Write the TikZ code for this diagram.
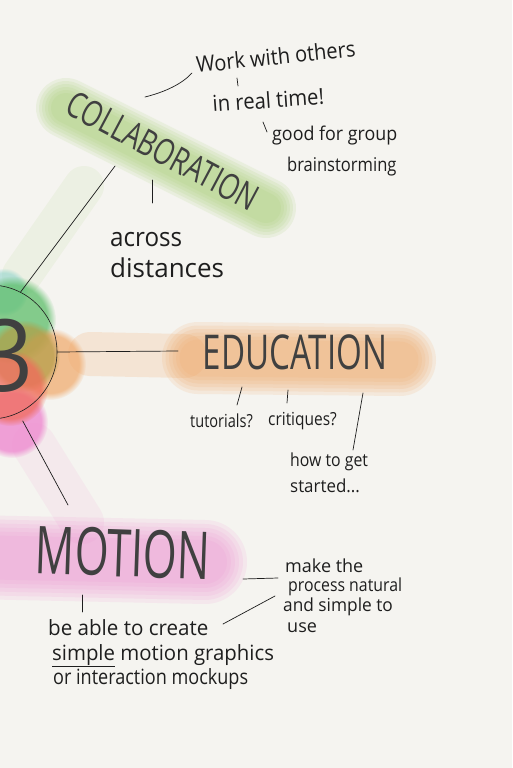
\documentclass[tikz,border=0pt]{standalone}
\usepackage{fontspec}
\setmainfont{Open Sans}
\usetikzlibrary{calc,fadings}
\definecolor{paper}{HTML}{F5F4F0}
\definecolor{ink}{HTML}{1E1E1E}
\definecolor{collab}{HTML}{A5CF72}
\definecolor{educ}{HTML}{F0A868}
\definecolor{motion}{HTML}{EE8AD0}
\definecolor{hubgreen}{HTML}{5DBE6A}
\definecolor{hubolive}{HTML}{B39C45}
\definecolor{hubred}{HTML}{EF6B5B}
\definecolor{hubteal}{HTML}{80D0C8}

\tikzset{
  wash/.style={line cap=round, line join=round},
  blob/.style={path fading=circle with fuzzy edge 20 percent},
  link/.style={draw=ink, line width=0.7pt, line cap=round},
  title/.style={text=ink!85, inner sep=0pt},
  note/.style={text=ink, inner sep=0pt, anchor=base west},
}

\begin{document}
\begin{tikzpicture}[x=1pt,y=-1pt]
  % paper
  \fill[paper] (0,0) rectangle (512,768);
  \useasboundingbox (0,0) rectangle (512,768);

  % watercolour washes behind the words
  \draw[collab,opacity=0.1,line width=40pt,wash] (22,275) -- (84,186);
  \foreach \i in {0,...,5} {
    \pgfmathsetmacro\lw{60-6*\i}
    \draw[collab,opacity=0.14,line width=\lw pt,wash] (66,108) -- (266,208);
  }
  \draw[educ,opacity=0.2,line width=44pt,wash] (90,354) -- (185,356);
  \foreach \i in {0,...,5} {
    \pgfmathsetmacro\lw{72-7*\i}
    \draw[educ,opacity=0.15,line width=\lw pt,wash] (198,358) -- (400,360);
  }
  \draw[motion,opacity=0.1,line width=44pt,wash] (34,445) -- (82,522);
  \foreach \i in {0,...,5} {
    \pgfmathsetmacro\lw{84-8*\i}
    \draw[motion,opacity=0.12,line width=\lw pt,wash] (-30,557) -- (205,562);
  }

  % hub blob (several colours bleeding into each other)
  \fill[hubteal,opacity=0.5,blob] (4,292) circle (24);
  \fill[hubgreen,opacity=0.75,blob] (12,320) circle (44);
  \fill[educ,opacity=0.7,blob] (50,364) circle (36);
  \fill[hubolive,opacity=0.7,blob] (24,356) circle (36);
  \fill[motion,opacity=0.8,blob] (12,422) circle (36);
  \fill[hubred,opacity=0.75,blob] (10,388) circle (38);

  % hub
  \node[circle,draw=ink,line width=0.6pt,minimum size=134pt,inner sep=0pt] (hub) at (-10,352) {};
  \node[title,font=\fontsize{100}{100}\selectfont,xscale=0.95] (three) at (7,356) {3};

  % main branches
  \node[title,font=\fontsize{36}{36}\selectfont,rotate=-28,xscale=0.73] (collab) at (163,151) {COLLABORATION};
  \node[title,font=\fontsize{48}{48}\selectfont,xscale=0.69] (edu) at (295,352) {EDUCATION};
  \node[title,font=\fontsize{66}{66}\selectfont,rotate=-2,xscale=0.66] (motion) at (123,553) {MOTION};

  % collaboration notes
  \node[note,font=\fontsize{22}{22}\selectfont,rotate=6,xscale=0.91] (work) at (197,73) {Work with others};
  \node[note,font=\fontsize{22}{22}\selectfont,rotate=4,xscale=0.92] (realtime) at (213,112) {in real time!};
  \node[note,font=\fontsize{19}{19}\selectfont,xscale=0.94] (good) at (272,140) {good for group};
  \node[note,font=\fontsize{19}{19}\selectfont,xscale=0.87] (brain) at (287,171) {brainstorming};
  \node[note,font=\fontsize{26}{26}\selectfont,xscale=0.93] (across) at (110,246) {across};
  \node[note,font=\fontsize{26}{26}\selectfont] (dist) at (110,277) {distances};

  % education notes
  \node[note,font=\fontsize{18}{18}\selectfont,xscale=0.81] (tut) at (190,427) {tutorials?};
  \node[note,font=\fontsize{18}{18}\selectfont,xscale=0.86] (crit) at (268,425) {critiques?};
  \node[note,font=\fontsize{18}{18}\selectfont,xscale=0.88] (howto) at (290,466) {how to get};
  \node[note,font=\fontsize{18}{18}\selectfont,xscale=0.94] (started) at (290,492) {started...};

  % motion notes
  \node[note,font=\fontsize{18}{18}\selectfont] (make) at (285,572) {make the};
  \node[note,font=\fontsize{18}{18}\selectfont,xscale=0.88] (process) at (288,591) {process natural};
  \node[note,font=\fontsize{18}{18}\selectfont,xscale=0.96] (andsimple) at (283,611) {and simple to};
  \node[note,font=\fontsize{18}{18}\selectfont] (use) at (287,632) {use};
  \node[note,font=\fontsize{21}{21}\selectfont,xscale=0.98] (beable) at (48,635) {be able to create};
  \node[note,font=\fontsize{21}{21}\selectfont,xscale=0.97] (simple) at (52,660) {\underline{simple} motion graphics};
  \node[note,font=\fontsize{21}{21}\selectfont,xscale=0.86] (mockups) at (53,684) {or interaction mockups};

  % loose ends of the strokes
  \coordinate (collab-foot) at (115,166);
  \coordinate (collab-top) at (145,97);
  \coordinate (tw1) at (237,78);  \coordinate (tw2) at (238,86);
  \coordinate (tg1) at (263,122); \coordinate (tg2) at (267,132);
  \coordinate (ta1) at (152,180); \coordinate (ta2) at (152,203);
  \coordinate (edu-in) at (178,351);
  \coordinate (tt1) at (242,387); \coordinate (tt2) at (237,405);
  \coordinate (tc1) at (288,390); \coordinate (tc2) at (287,403);
  \coordinate (th1) at (363,393); \coordinate (th2) at (353,450);
  \coordinate (mo-in) at (68,505);
  \coordinate (mm1) at (243,579); \coordinate (mm2) at (278,578);
  \coordinate (ma1) at (275,596); \coordinate (ma2) at (223,624);
  \coordinate (mt1) at (82,595);  \coordinate (mt2) at (82,612);

  % strokes
  \draw[link] (hub.63) -- (collab-foot);
  \draw[link] (hub.east) -- (edu-in);
  \draw[link,shorten <=9pt] (hub.-65) -- (mo-in);
  \draw[link] (collab-top) .. controls (165,92) and (182,84) .. ([xshift=-5pt]work.base west);
  \draw[link] (tw1) -- (tw2);
  \draw[link] (tg1) -- (tg2);
  \draw[link] (ta1) -- (ta2);
  \draw[link] (tt1) -- (tt2);
  \draw[link] (tc1) -- (tc2);
  \draw[link] (th1) -- (th2);
  \draw[link] (mm1) -- (mm2);
  \draw[link] (ma1) -- (ma2);
  \draw[link] (mt1) -- (mt2);
\end{tikzpicture}
\end{document}
